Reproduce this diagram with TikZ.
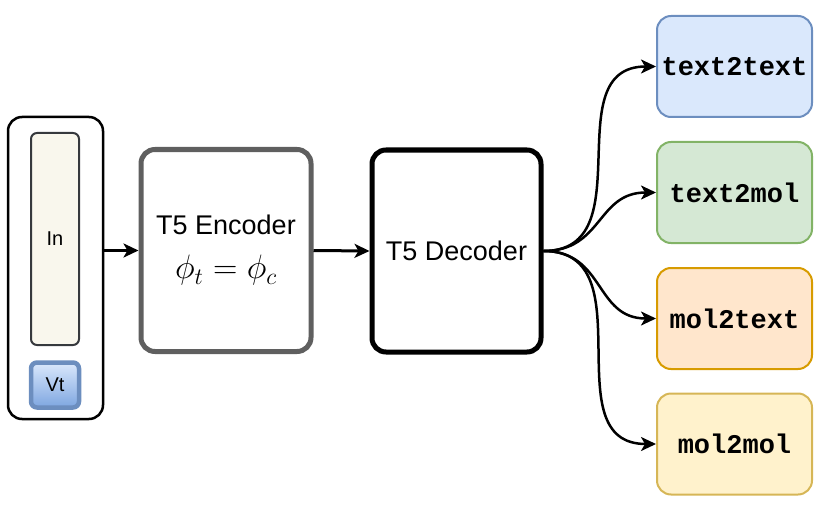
\documentclass[tikz,border=0pt]{standalone}
\usepackage{fontspec}
\setmainfont{Liberation Sans}
\setmonofont{Liberation Mono}
\usetikzlibrary{arrows.meta}

\definecolor{inbg}{HTML}{F9F7ED}
\definecolor{inline}{HTML}{36393D}
\definecolor{bluebg}{HTML}{DAE8FC}
\definecolor{blueline}{HTML}{6C8EBF}
\definecolor{bluedark}{HTML}{7EA6E0}
\definecolor{greenbg}{HTML}{D5E8D4}
\definecolor{greenline}{HTML}{82B366}
\definecolor{orangebg}{HTML}{FFE6CC}
\definecolor{orangeline}{HTML}{D79B00}
\definecolor{yellowbg}{HTML}{FFF2CC}
\definecolor{yellowline}{HTML}{D6B656}
\definecolor{encline}{HTML}{5F5F5F}

\tikzset{
  box/.style={rectangle,rounded corners=14pt,inner sep=0pt},
  task/.style={box,line width=2pt,minimum width=155pt,minimum height=101pt,
    font=\fontsize{27}{32}\selectfont\ttfamily\bfseries},
  arr/.style={line width=3pt,-{Stealth[length=15pt,width=14pt,inset=4pt]}},
  curv/.style={line width=2.5pt,-{Stealth[length=15pt,width=14pt,inset=4pt]}}
}

\begin{document}
\begin{tikzpicture}[x=1pt,y=-1pt]
  \useasboundingbox (0,0) rectangle (827,508);
  \node [box,draw=black,line width=2.5pt,minimum width=95pt,minimum height=302pt] (seq) at (55.5,268) {};
  \node [box,rounded corners=6pt,draw=inline,fill=inbg,line width=2pt,minimum width=48pt,minimum height=212pt,
    font=\fontsize{20}{24}\selectfont] (in) at (55,239) {In};
  \node [box,rounded corners=6pt,draw=blueline,top color=bluebg,bottom color=bluedark,line width=4.5pt,
    minimum width=48pt,minimum height=45pt,font=\fontsize{20}{24}\selectfont] (vt) at (55,385) {Vt};
  \node [box,draw=encline,line width=5pt,minimum width=170pt,minimum height=202pt,align=center,
    font=\fontsize{27}{32}\selectfont] (enc) at (226,250.5)
    {T5 Encoder\\[12pt]\scalebox{1.36}{$\phi_t=\phi_c$}};
  \node [box,draw=black,line width=5pt,minimum width=169pt,minimum height=202pt,
    font=\fontsize{27}{32}\selectfont] (dec) at (456.5,251) {T5 Decoder};
  \node [task,draw=blueline,fill=bluebg] (t2t) at (734.5,66.5) {text2text};
  \node [task,draw=greenline,fill=greenbg] (t2m) at (734.5,192.5) {text2mol};
  \node [task,draw=orangeline,fill=orangebg] (m2t) at (734.5,318.5) {mol2text};
  \node [task,draw=yellowline,fill=yellowbg] (m2m) at (734.5,444) {mol2mol};
  \draw [arr] (seq.east |- enc) -- (enc.west);
  \draw [arr] (enc.east) -- (dec.west);
  \draw [curv] (dec.east) to[out=0,in=180,looseness=1.2] (t2t.west);
  \draw [curv] (dec.east) to[out=0,in=180,looseness=1.2] (t2m.west);
  \draw [curv] (dec.east) to[out=0,in=180,looseness=1.2] (m2t.west);
  \draw [curv] (dec.east) to[out=0,in=180,looseness=1.2] (m2m.west);
\end{tikzpicture}
\end{document}
